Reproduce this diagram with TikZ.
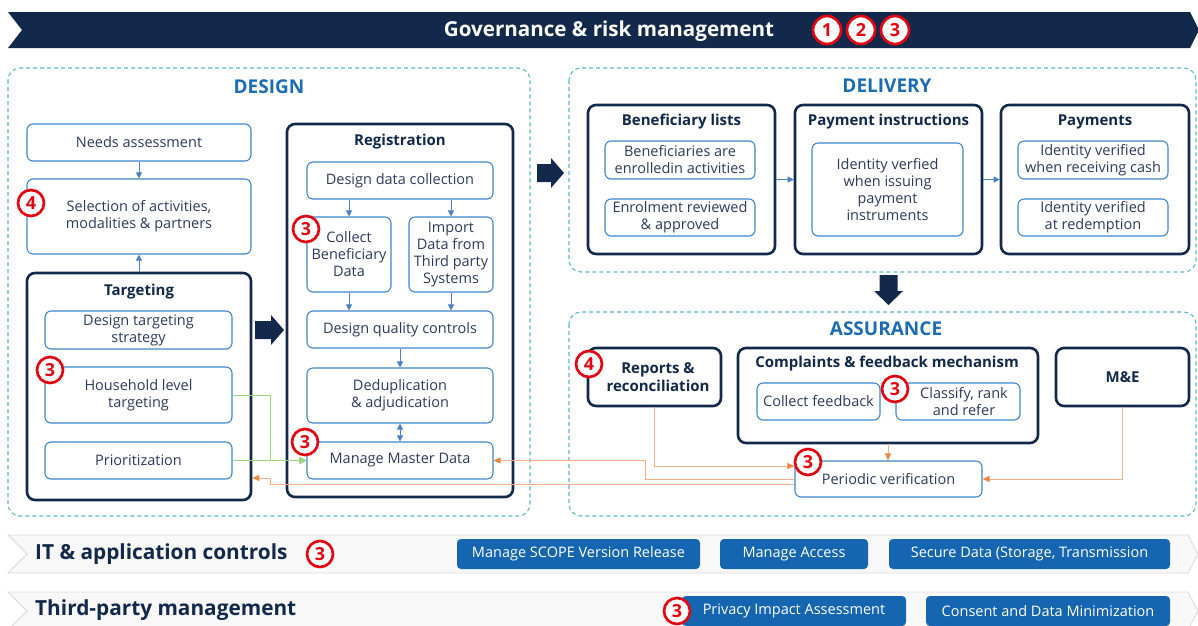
\documentclass[tikz,border=0pt]{standalone}
\usepackage{fontspec}
\setmainfont{Open Sans}
\usetikzlibrary{arrows.meta,calc}
\definecolor{navy}{HTML}{13294B}
\definecolor{boxblue}{HTML}{3F86CC}
\definecolor{txt}{HTML}{2E3B5A}
\definecolor{zoneteal}{HTML}{5BB9C7}
\definecolor{secblue}{HTML}{1C6CB4}
\definecolor{btn}{HTML}{1565B0}
\definecolor{grn}{HTML}{9CD47F}
\definecolor{org}{HTML}{F5AE85}
\definecolor{orgtip}{HTML}{EE8845}
\definecolor{arrblue}{HTML}{4B7FC6}
\definecolor{redc}{HTML}{E30613}
\definecolor{barfill}{HTML}{F8F8F8}
\definecolor{barline}{HTML}{D9D9D9}
\begin{document}
\begin{tikzpicture}[x=1pt,y=-1pt,
  bx/.style={draw=boxblue,line width=1.1pt,rounded corners=6pt,fill=white,align=center,text=txt,font=\fontsize{14.5}{17}\selectfont,inner sep=1pt},
  cont/.style={draw=navy,line width=2.6pt,rounded corners=8pt,fill=white},
  ttl/.style={text=navy,font=\fontsize{15}{17.5}\selectfont\bfseries,align=center,inner sep=0pt},
  zone/.style={draw=zoneteal,line width=1.1pt,dash pattern=on 4pt off 3pt,rounded corners=12pt},
  sec/.style={text=secblue,font=\fontsize{19}{20}\selectfont\bfseries,inner sep=0pt},
  rc/.style={circle,draw=redc,line width=2.7pt,fill=white,inner sep=0pt,minimum size=26pt,text=redc,font=\fontsize{18}{18}\selectfont\bfseries},
  barr/.style={-{Triangle[length=6pt,width=6pt]},draw=arrblue,line width=0.8pt},
  garr/.style={-{Triangle[length=7pt,width=7pt]},draw=grn,line width=0.9pt},
  oarr/.style={-{Triangle[length=7pt,width=6pt,color=orgtip]},draw=org,line width=0.9pt},
  btnbox/.style={fill=btn,rounded corners=4pt,text=white,font=\fontsize{14.5}{16}\selectfont,inner sep=0pt},
  bartext/.style={anchor=west,text=navy,font=\fontsize{20.8}{22}\selectfont\bfseries,inner sep=0pt}
]
\useasboundingbox (0,0) rectangle (1198,625);
\clip (0,0) rectangle (1198,625);

% top banner
\fill[navy] (8,12) -- (1190,12) -- (1199,30) -- (1190,48) -- (8,48) -- (22,30) -- cycle;
\node[text=white,font=\fontsize{20.6}{22}\selectfont\bfseries,inner sep=0pt] (gov) at (609,31) {Governance \& risk management};
\node[rc,minimum size=28pt] (g1c) at (827,30) {1};
\node[rc,minimum size=28pt] (g2c) at (861,30) {2};
\node[rc,minimum size=28pt] (g3c) at (895,30) {3};

% zones
\draw[zone] (8,68) rectangle (530,516);
\draw[zone] (569,68) rectangle (1196,272);
\draw[zone] (569,312) rectangle (1196,516);
\node[sec] (designT) at (269,87) {DESIGN};
\node[sec] (deliveryT) at (887,86) {DELIVERY};
\node[sec] (assuranceT) at (886,329) {ASSURANCE};

% big arrows
\fill[navy] (255,321) -- (271,321) -- (271,315) -- (284,330) -- (271,345) -- (271,339) -- (255,339) -- cycle;
\fill[navy] (537,164) -- (551,164) -- (551,158) -- (564,173) -- (551,188) -- (551,182) -- (537,182) -- cycle;
\fill[navy] (879.5,275) -- (879.5,291) -- (874,291) -- (888.5,305) -- (903,291) -- (897.5,291) -- (897.5,275) -- cycle;

% design left column
\node[bx,minimum width=224pt,minimum height=37pt] (needs) at (139,142.5) {Needs assessment};
\node[bx,minimum width=224pt,minimum height=75pt] (select) at (139,216.5) {Selection of activities,\\modalities \& partners};
\node[cont,minimum width=224pt,minimum height=227pt] (target) at (139,386.5) {};
\node[ttl] (targetT) at (139,292) {Targeting};
\node[bx,minimum width=187pt,minimum height=38pt] (dts) at (138.5,330) {Design targeting\\strategy};
\node[bx,minimum width=187pt,minimum height=56pt] (hlt) at (138.5,395) {Household level\\targeting};
\node[bx,minimum width=187pt,minimum height=37pt] (prio) at (138.5,460.5) {Prioritization};

% registration
\node[cont,minimum width=226pt,minimum height=373pt] (reg) at (400,310.5) {};
\node[ttl] (regT) at (400,142) {Registration};
\node[bx,minimum width=186pt,minimum height=37pt] (ddc) at (400,180.5) {Design data collection};
\node[bx,minimum width=84pt,minimum height=75pt] (cbd) at (349,254.5) {Collect\\Beneficiary\\Data};
\node[bx,minimum width=84pt,minimum height=75pt] (imp) at (451,254.5) {Import\\Data from\\Third party\\Systems};
\node[bx,minimum width=186pt,minimum height=37pt] (dqc) at (400,329.5) {Design quality controls};
\node[bx,minimum width=186pt,minimum height=55pt] (dedup) at (400,395.5) {Deduplication\\\& adjudication};
\node[bx,minimum width=186pt,minimum height=37pt] (mmd) at (400,460.5) {Manage Master Data};

% delivery
\node[cont,minimum width=187pt,minimum height=149pt] (bl) at (681.5,179.5) {};
\node[ttl] (blT) at (681.5,122) {Beneficiary lists};
\node[bx,minimum width=150pt,minimum height=38pt] (bl1) at (680,160) {Beneficiaries are\\enrolledin activities};
\node[bx,minimum width=150pt,minimum height=37pt] (bl2) at (680,217.5) {Enrolment reviewed\\\& approved};
\node[cont,minimum width=187pt,minimum height=149pt] (pi) at (888.5,179.5) {};
\node[ttl] (piT) at (888.5,122) {Payment instructions};
\node[bx,minimum width=151pt,minimum height=93pt] (pi1) at (887.5,189.5) {Identity verfied\\when issuing\\payment\\instruments};
\node[cont,minimum width=188pt,minimum height=149pt] (pay) at (1095,179.5) {};
\node[ttl] (payT) at (1095,122) {Payments};
\node[bx,minimum width=150pt,minimum height=38pt] (pay1) at (1093,160) {Identity verified\\when receiving cash};
\node[bx,minimum width=150pt,minimum height=37pt] (pay2) at (1093,217.5) {Identity verified\\at redemption};

% assurance
\node[cont,minimum width=133pt,minimum height=58pt] (rep) at (654.5,377) {};
\node[ttl] (repT) at (658,377) {Reports \&\\reconciliation};
\node[cont,minimum width=300pt,minimum height=95pt] (cfm) at (888,395.5) {};
\node[ttl] (cfmT) at (887,364) {Complaints \& feedback mechanism};
\node[bx,minimum width=123pt,minimum height=37pt] (cf) at (818.5,401.5) {Collect feedback};
\node[bx,minimum width=124pt,minimum height=37pt] (crr) at (958,401.5) {\hspace*{12pt}Classify, rank\\\hspace*{12pt}and refer};
\node[cont,minimum width=133pt,minimum height=58pt] (me) at (1122.5,377) {};
\node[ttl] (meT) at (1122.5,377) {M\&E};
\node[bx,minimum width=187pt,minimum height=36pt] (pv) at (888.5,479) {Periodic verification};

% blue connectors
\draw[barr] (needs.south) -- (select.north);
\draw[barr] (target.north) -- (select.south);
\draw[barr] (ddc.south -| cbd.north) -- (cbd.north);
\draw[barr] (ddc.south -| imp.north) -- (imp.north);
\draw[barr] (cbd.south) -- (cbd.south |- dqc.north);
\draw[barr] (imp.south) -- (imp.south |- dqc.north);
\draw[barr] (dqc.south) -- (dedup.north);
\draw[draw=arrblue,line width=0.8pt,{Triangle[length=6pt,width=6pt]}-{Triangle[length=6pt,width=6pt]}] (dedup.south) -- (mmd.north);
\draw[barr] (bl.east |- bl1.south) -- (pi.west |- bl1.south);
\draw[barr] (pi.east |- bl1.south) -- (pay.west |- bl1.south);

% green connectors
\coordinate (gc) at (270,460.5);
\draw[garr] (hlt.east) -| (gc) -- (mmd.west);
\draw[garr] (prio.east) -- (mmd.west);

% orange connectors
\coordinate (oc1) at (645,460.5);
\draw[oarr] (pv.west) -| (oc1) -- (mmd.east);
\coordinate (oc2) at (270,478);
\draw[oarr] ([yshift=-5pt]pv.west) -| (oc2) -- (oc2 -| target.east);
\draw[oarr] (rep.south) |- ([yshift=13pt]pv.west);
\draw[oarr] (cfm.south) -- (cfm.south |- pv.north);
\draw[oarr] (me.south) |- (pv.east);

% bottom bars
\draw[fill=barfill,draw=barline,line width=0.8pt] (8,535) -- (1188,535) -- (1198,554) -- (1188,573) -- (8,573) -- (27,554) -- cycle;
\node[bartext] (itT) at (35,554) {IT \& application controls};
\node[btnbox,minimum width=243pt,minimum height=30pt] (b1) at (578.5,554) {Manage SCOPE Version Release};
\node[btnbox,minimum width=148pt,minimum height=30pt] (b2) at (794,554) {Manage Access};
\node[btnbox,minimum width=281pt,minimum height=30pt] (b3) at (1029.5,554) {Secure Data (Storage, Transmission};
\draw[fill=barfill,draw=barline,line width=0.8pt] (8,592) -- (1188,592) -- (1198,611) -- (1188,630) -- (8,630) -- (27,611) -- cycle;
\node[bartext] (tpT) at (35,610) {Third-party management};
\node[btnbox,minimum width=224pt,minimum height=30pt] (b4) at (794,611) {Privacy Impact Assessment};
\node[btnbox,minimum width=244pt,minimum height=30pt] (b5) at (1048,611) {Consent and Data Minimization};

% red markers
\node[rc] (m1) at (31,203) {4};
\node[rc] (m2) at (50,370) {3};
\node[rc] (m3) at (306,229) {3};
\node[rc] (m4) at (305,442) {3};
\node[rc] (m5) at (589,364) {4};
\node[rc] (m6) at (895,389) {3};
\node[rc] (m7) at (808,462) {3};
\node[rc] (m8) at (320,554) {3};
\node[rc] (m9) at (677,611) {3};
\end{tikzpicture}
\end{document}
